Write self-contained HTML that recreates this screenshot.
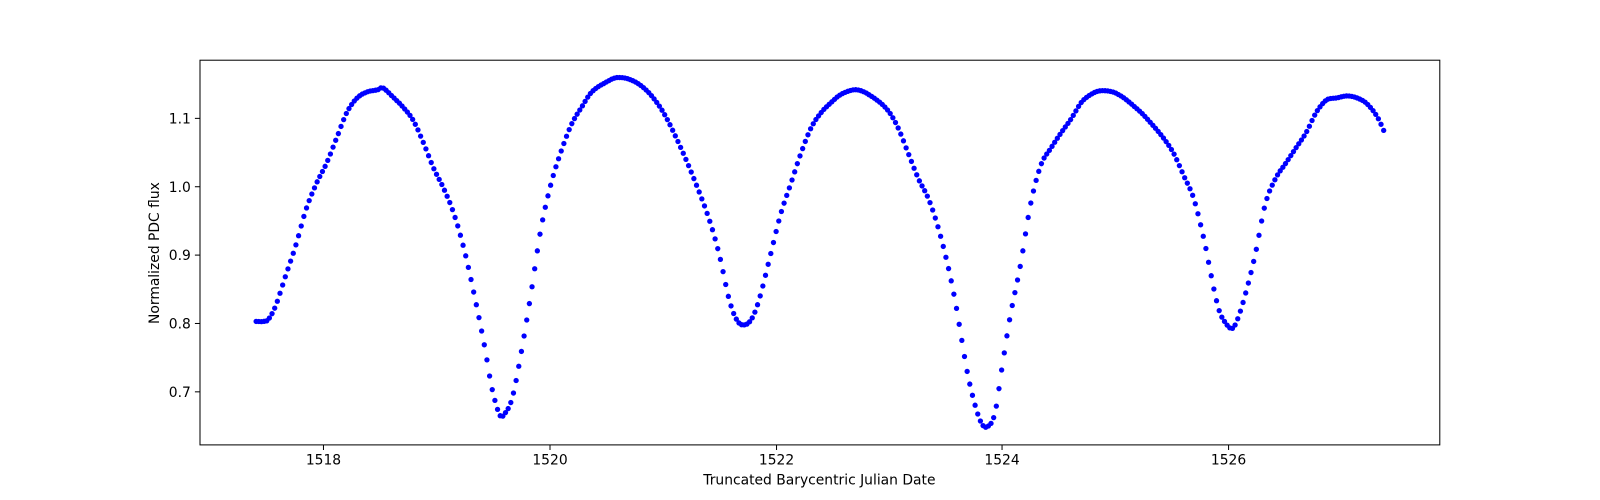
<!DOCTYPE html>
<html><head><meta charset="utf-8"><style>body{margin:0;background:#fff}svg{display:block}text{font-family:"DejaVu Sans","Liberation Sans",sans-serif;font-size:13.6px;fill:#000}</style></head>
<body>
<svg id="s" width="1600" height="500" viewBox="0 0 1568 490" xmlns="http://www.w3.org/2000/svg">
<rect x="196" y="59" width="1215" height="377" fill="none" stroke="#000" stroke-width="1"/>
<g stroke="#000" stroke-width="1">
<line x1="317" y1="436" x2="317" y2="441"/><line x1="539" y1="436" x2="539" y2="441"/><line x1="761" y1="436" x2="761" y2="441"/><line x1="982" y1="436" x2="982" y2="441"/><line x1="1204" y1="436" x2="1204" y2="441"/>
<line x1="191" y1="116" x2="196" y2="116"/><line x1="191" y1="183" x2="196" y2="183"/><line x1="191" y1="250" x2="196" y2="250"/><line x1="191" y1="317" x2="196" y2="317"/><line x1="191" y1="384" x2="196" y2="384"/>
</g>
<g text-anchor="middle">
<text x="317" y="455">1518</text><text x="539" y="455">1520</text><text x="761" y="455">1522</text><text x="982" y="455">1524</text><text x="1204" y="455">1526</text>
<text x="803" y="475">Truncated Barycentric Julian Date</text>
<text transform="translate(156,248) rotate(-90)">Normalized PDC flux</text>
</g>
<g text-anchor="end">
<text x="187" y="121">1.1</text><text x="187" y="188">1.0</text><text x="187" y="255">0.9</text><text x="187" y="322">0.8</text><text x="187" y="389">0.7</text>
</g>
<g id="d" fill="#0000ff"></g>
</svg>
<script>
var P=[[251,315],[258,315],[263,313],[270,300],[280,270],[290,240],[300,205],[310,180],[320,160],[330,135],[340,110],[350,96],[360,90],[370,88],[375,86],[385,95],[395,105],[405,118],[415,140],[425,165],[435,185],[445,210],[455,245],[465,290],[475,340],[482,380],[490,407],[495,405],[502,390],[510,350],[520,290],[530,225],[540,180],[550,148],[560,122],[570,105],[580,90],[595,80],[605,76],[620,79],[635,90],[650,110],[665,140],[680,175],[695,215],[705,250],[715,295],[723,315],[731,318],[738,310],[745,290],[755,250],[765,210],[775,180],[785,150],[795,125],[805,110],[815,100],[825,92],[840,88],[855,95],[870,108],[880,125],[890,150],[900,175],[910,195],[920,225],[930,265],[937,300],[942,330],[948,365],[955,395],[962,415],[968,418],[975,405],[982,360],[990,310],[1000,260],[1010,200],[1020,162],[1030,145],[1040,130],[1050,116],[1060,100],[1070,92],[1078,89],[1090,90],[1100,95],[1110,103],[1120,112],[1130,123],[1140,135],[1150,150],[1160,172],[1170,195],[1180,235],[1185,260],[1190,285],[1195,305],[1200,315],[1207,322],[1212,315],[1220,290],[1230,250],[1240,200],[1250,175],[1260,160],[1270,145],[1280,130],[1290,110],[1300,98],[1310,96],[1320,94],[1330,96],[1340,102],[1350,115],[1357,130]];
function f(x){for(var i=0;i<P.length-1;i++){if(x<=P[i+1][0]){var p0=P[Math.max(0,i-1)],p1=P[i],p2=P[i+1],p3=P[Math.min(P.length-1,i+2)];var t=(x-p1[0])/(p2[0]-p1[0]);var m1=(p2[1]-p0[1])/(p2[0]-p0[0])*(p2[0]-p1[0]),m2=(p3[1]-p1[1])/(p3[0]-p1[0])*(p2[0]-p1[0]);var t2=t*t,t3=t2*t;return (2*t3-3*t2+1)*p1[1]+(t3-2*t2+t)*m1+(-2*t3+3*t2)*p2[1]+(t3-t2)*m2;}}return P[P.length-1][1];}
var g=document.getElementById('d'),h='';
for(var x=251;x<=1357.5;x+=2.6){h+='<circle cx="'+x.toFixed(1)+'" cy="'+f(x).toFixed(1)+'" r="2.6"/>';}
g.innerHTML=h;
</script>
</body></html>
